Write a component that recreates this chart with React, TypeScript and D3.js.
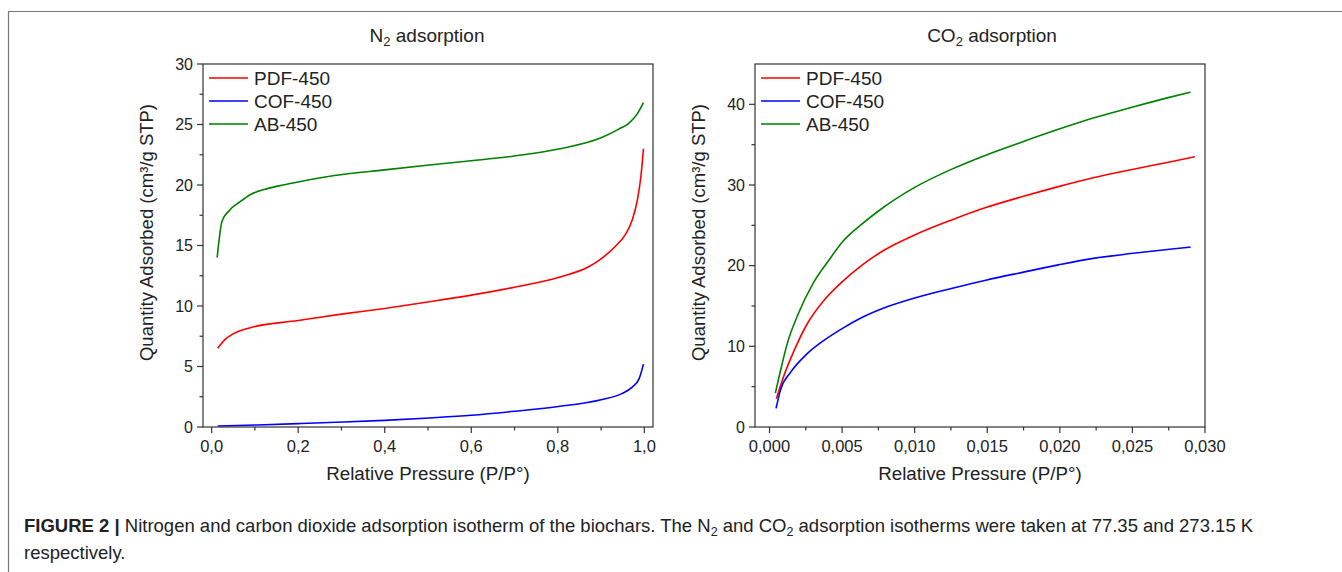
import React, { useEffect } from 'react';
import * as d3 from 'd3';

// N2 isotherm, relative pressure
const n2AbX = [0.0127, 0.024, 0.041, 0.065, 0.089, 0.129, 0.165, 0.2, 0.288, 0.4, 0.503, 0.6, 0.7, 0.805, 0.9, 0.94, 0.964, 0.984, 0.998];
const n2AbY = [14.0, 17.0, 17.9, 18.6, 19.2, 19.7, 20.0, 20.25, 20.8, 21.25, 21.65, 22.0, 22.4, 23.0, 23.9, 24.6, 25.1, 25.9, 26.8];
const n2PdfX = [0.014, 0.03, 0.05, 0.089, 0.2, 0.304, 0.4, 0.503, 0.6, 0.7, 0.805, 0.869, 0.9, 0.932, 0.956, 0.972, 0.984, 0.992, 0.998];
const n2PdfY = [6.5, 7.2, 7.7, 8.2, 8.8, 9.35, 9.8, 10.35, 10.9, 11.55, 12.4, 13.2, 13.9, 14.9, 15.9, 17.1, 18.8, 20.7, 23.0];
const n2CofX = [0.014, 0.105, 0.2, 0.304, 0.4, 0.503, 0.6, 0.7, 0.805, 0.9, 0.948, 0.972, 0.988, 0.998];
const n2CofY = [0.08, 0.17, 0.28, 0.41, 0.55, 0.75, 0.97, 1.3, 1.71, 2.26, 2.76, 3.3, 4.0, 5.2];

// CO2 isotherm
const co2AbX = [0.0004, 0.00076, 0.00123, 0.0019, 0.003, 0.0041, 0.005, 0.0064, 0.0076, 0.01, 0.0126, 0.0149, 0.0175, 0.0199, 0.0223, 0.0249, 0.0274, 0.029];
const co2AbY = [4.2, 7.0, 10.4, 13.7, 17.8, 20.7, 22.9, 25.2, 26.9, 29.7, 32.0, 33.7, 35.4, 36.9, 38.3, 39.6, 40.8, 41.5];
const co2PdfX = [0.00047, 0.001, 0.0017, 0.0026, 0.0038, 0.005, 0.0064, 0.0076, 0.01, 0.0126, 0.0149, 0.0175, 0.0199, 0.0223, 0.0249, 0.0274, 0.0293];
const co2PdfY = [3.5, 6.4, 9.5, 12.8, 15.8, 18.0, 20.1, 21.6, 23.8, 25.7, 27.2, 28.6, 29.8, 30.9, 31.9, 32.8, 33.5];
const co2CofX = [0.00045, 0.00076, 0.00146, 0.0026, 0.0038, 0.005, 0.0064, 0.0081, 0.01, 0.0126, 0.0149, 0.0175, 0.0199, 0.0223, 0.0249, 0.0274, 0.029];
const co2CofY = [2.3, 4.6, 6.8, 9.1, 10.8, 12.2, 13.6, 14.9, 16.0, 17.2, 18.2, 19.2, 20.1, 20.9, 21.5, 22.0, 22.3];

const seriesNames = ['PDF-450', 'COF-450', 'AB-450'];
const seriesColors = ['#ff0000', '#0000ff', '#008000'];

const n2XTicks = [0, 0.2, 0.4, 0.6, 0.8, 1.0];
const n2XMinor = [0.1, 0.3, 0.5, 0.7, 0.9];
const n2YTicks = [0, 5, 10, 15, 20, 25, 30];
const n2YMinor = [2.5, 7.5, 12.5, 17.5, 22.5, 27.5];
const co2XTicks = [0, 0.005, 0.01, 0.015, 0.02, 0.025, 0.03];
const co2XMinor = [0.0025, 0.0075, 0.0125, 0.0175, 0.0225, 0.0275];
const co2YTicks = [0, 10, 20, 30, 40];
const co2YMinor = [5, 15, 25, 35];

const font = '"Liberation Sans", Arial, sans-serif';
const zip = (xs: number[], ys: number[]) => xs.map((x, i) => [x, ys[i]] as [number, number]);

type PanelProps = {
  left: number;
  right: number;
  xDomain: [number, number];
  yDomain: [number, number];
  xTicks: number[];
  xMinor: number[];
  yTicks: number[];
  yMinor: number[];
  xFmt: (v: number) => string;
  series: [number, number][][];
  gas: string;
  titleX: number;
  yTitleX: number;
};

const top = 64;
const bottom = 427;

const Panel = (p: PanelProps) => {
  const x = d3.scaleLinear().domain(p.xDomain).range([p.left, p.right]);
  const y = d3.scaleLinear().domain(p.yDomain).range([bottom, top]);
  const line = d3
    .line<[number, number]>()
    .x((d) => x(d[0]))
    .y((d) => y(d[1]))
    .curve(d3.curveMonotoneX);
  const midX = (p.left + p.right) / 2;
  return (
    <g fontFamily={font}>
      <text x={p.titleX} y={42} fontSize={19} textAnchor="middle" fill="#222">
        {p.gas}
        <tspan fontSize={13} dy={4}>2</tspan>
        <tspan dy={-4}> adsorption</tspan>
      </text>
      {p.series.map((s, i) => (
        <path key={i} d={line(s) || ''} fill="none" stroke={seriesColors[i]} strokeWidth={1.6} />
      ))}
      <rect x={p.left} y={top} width={p.right - p.left} height={bottom - top} fill="none" stroke="#333" strokeWidth={1.2} />
      {p.xTicks.map((t) => (
        <g key={'xt' + t}>
          <line x1={x(t)} x2={x(t)} y1={bottom} y2={bottom + 6} stroke="#333" strokeWidth={1.2} />
          <text x={x(t)} y={bottom + 25} fontSize={16.5} textAnchor="middle" fill="#222">
            {p.xFmt(t)}
          </text>
        </g>
      ))}
      {p.xMinor.map((t) => (
        <line key={'xm' + t} x1={x(t)} x2={x(t)} y1={bottom} y2={bottom + 3.5} stroke="#333" strokeWidth={1.2} />
      ))}
      {p.yTicks.map((t) => (
        <g key={'yt' + t}>
          <line x1={p.left - 6} x2={p.left} y1={y(t)} y2={y(t)} stroke="#333" strokeWidth={1.2} />
          <text x={p.left - 10} y={y(t) + 5.5} fontSize={16} textAnchor="end" fill="#222">
            {t}
          </text>
        </g>
      ))}
      {p.yMinor.map((t) => (
        <line key={'ym' + t} x1={p.left - 3.5} x2={p.left} y1={y(t)} y2={y(t)} stroke="#333" strokeWidth={1.2} />
      ))}
      <text x={midX} y={480} fontSize={18.8} textAnchor="middle" fill="#222">
        Relative Pressure (P/P°)
      </text>
      <text
        transform={`translate(${p.yTitleX},${(top + bottom) / 2 - 13}) rotate(-90)`}
        fontSize={18.5}
        textAnchor="middle"
        fill="#222"
      >
        Quantity Adsorbed (cm³/g STP)
      </text>
      {seriesNames.map((n, i) => (
        <g key={n}>
          <line x1={p.left + 6} x2={p.left + 45} y1={78 + i * 23} y2={78 + i * 23} stroke={seriesColors[i]} strokeWidth={1.6} />
          <text x={p.left + 51} y={78 + i * 23 + 7} fontSize={19} fill="#222">
            {n}
          </text>
        </g>
      ))}
    </g>
  );
};

const comma = (digits: number) => (v: number) => v.toFixed(digits).replace('.', ',');

export default function App() {
  useEffect(() => {
    document.body.style.margin = '0';
  }, []);
  return (
    <svg width={1342} height={572} style={{ display: 'block', background: '#fff' }}>
      <line x1={8} x2={1342} y1={11.5} y2={11.5} stroke="#777" strokeWidth={1.2} />
      <line x1={8.5} x2={8.5} y1={11} y2={572} stroke="#777" strokeWidth={1.2} />
      <Panel
        left={203}
        right={653}
        xDomain={[-0.02, 1.02]}
        yDomain={[0, 30]}
        xTicks={n2XTicks}
        xMinor={n2XMinor}
        yTicks={n2YTicks}
        yMinor={n2YMinor}
        xFmt={comma(1)}
        series={[zip(n2PdfX, n2PdfY), zip(n2CofX, n2CofY), zip(n2AbX, n2AbY)]}
        gas="N"
        titleX={427}
        yTitleX={153}
      />
      <Panel
        left={755}
        right={1205}
        xDomain={[-0.001, 0.03]}
        yDomain={[0, 45]}
        xTicks={co2XTicks}
        xMinor={co2XMinor}
        yTicks={co2YTicks}
        yMinor={co2YMinor}
        xFmt={comma(3)}
        series={[zip(co2PdfX, co2PdfY), zip(co2CofX, co2CofY), zip(co2AbX, co2AbY)]}
        gas="CO"
        titleX={992}
        yTitleX={705}
      />
      <g fontFamily={font} fontSize={18.5} fill="#222">
        <text x={24} y={532}>
          <tspan fontWeight="bold">FIGURE 2 | </tspan>
          <tspan>Nitrogen and carbon dioxide adsorption isotherm of the biochars. The N</tspan>
          <tspan fontSize={12.5} dy={4}>2</tspan>
          <tspan dy={-4}> and CO</tspan>
          <tspan fontSize={12.5} dy={4}>2</tspan>
          <tspan dy={-4}> adsorption isotherms were taken at 77.35 and 273.15 K</tspan>
        </text>
        <text x={24} y={559}>respectively.</text>
      </g>
    </svg>
  );
}
